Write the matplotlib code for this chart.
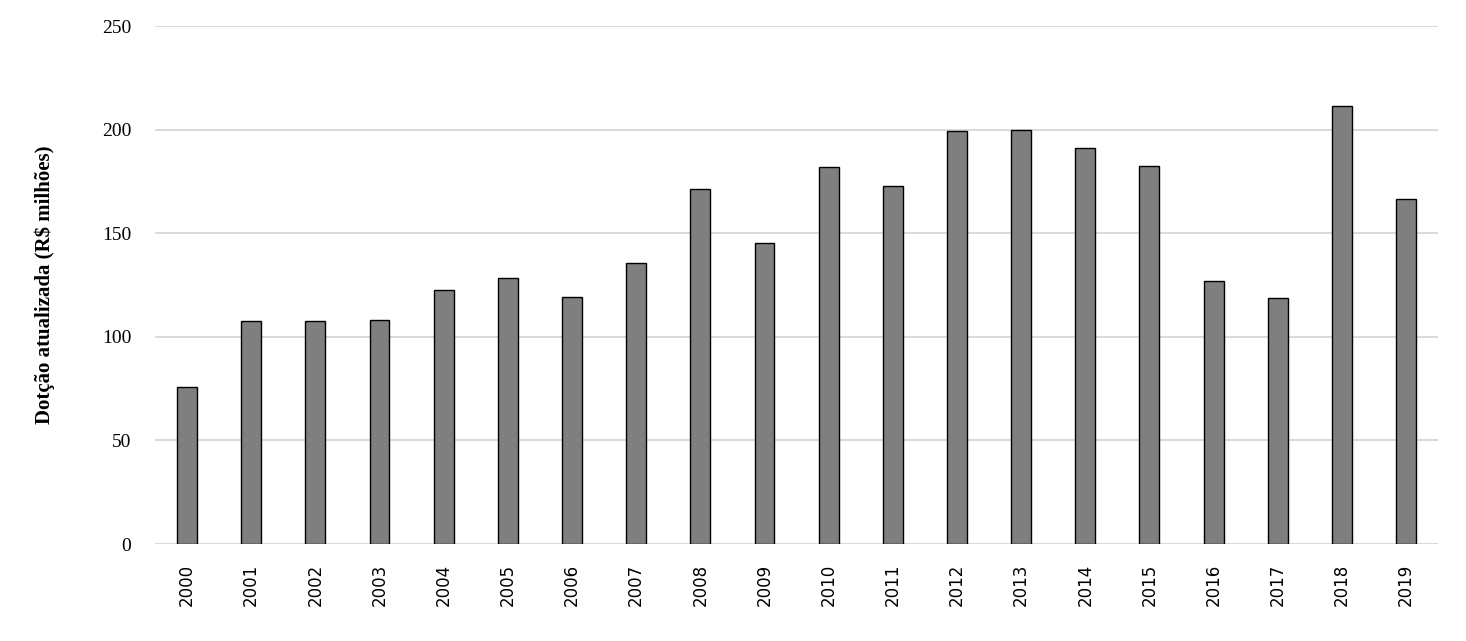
import matplotlib
matplotlib.use("Agg")
import matplotlib.pyplot as plt

# dotação atualizada por ano
anos = [str(a) for a in range(2000, 2020)]
valores = [76.0, 107.7, 107.7, 108.3, 122.7, 128.5, 119.4, 135.4, 171.5, 145.4,
           182.1, 172.8, 199.1, 199.9, 191.2, 182.5, 126.7, 118.8, 211.5, 166.7]
yticks = [0, 50, 100, 150, 200, 250]

fig = plt.figure(figsize=(14.66, 6.41), dpi=100)
ax = fig.add_axes([0.1057, 0.1513, 0.8753, 0.8081])

ax.bar(range(len(anos)), valores, width=0.31, color="#7f7f7f",
       edgecolor="black", linewidth=1.0, zorder=3)

ax.set_xlim(-0.5, len(anos) - 0.5)
ax.set_ylim(0, 250)
ax.set_yticks(yticks)
ax.set_yticklabels([str(v) for v in yticks], family="Liberation Serif", fontsize=14)
ax.set_xticks(range(len(anos)))
ax.set_xticklabels(anos, rotation=90, family="DejaVu Sans", fontsize=12)
ax.tick_params(axis="x", length=0, pad=14)
ax.tick_params(axis="y", length=0, pad=17)

ax.grid(axis="y", color="#d9d9d9", linewidth=1.4, zorder=0)
for s in ax.spines.values():
    s.set_visible(False)

ax.set_ylabel("Dotção atualizada (R$ milhões)", family="Liberation Serif",
              fontweight="bold", fontsize=15, labelpad=34)

fig.savefig("out.png", dpi=100)
